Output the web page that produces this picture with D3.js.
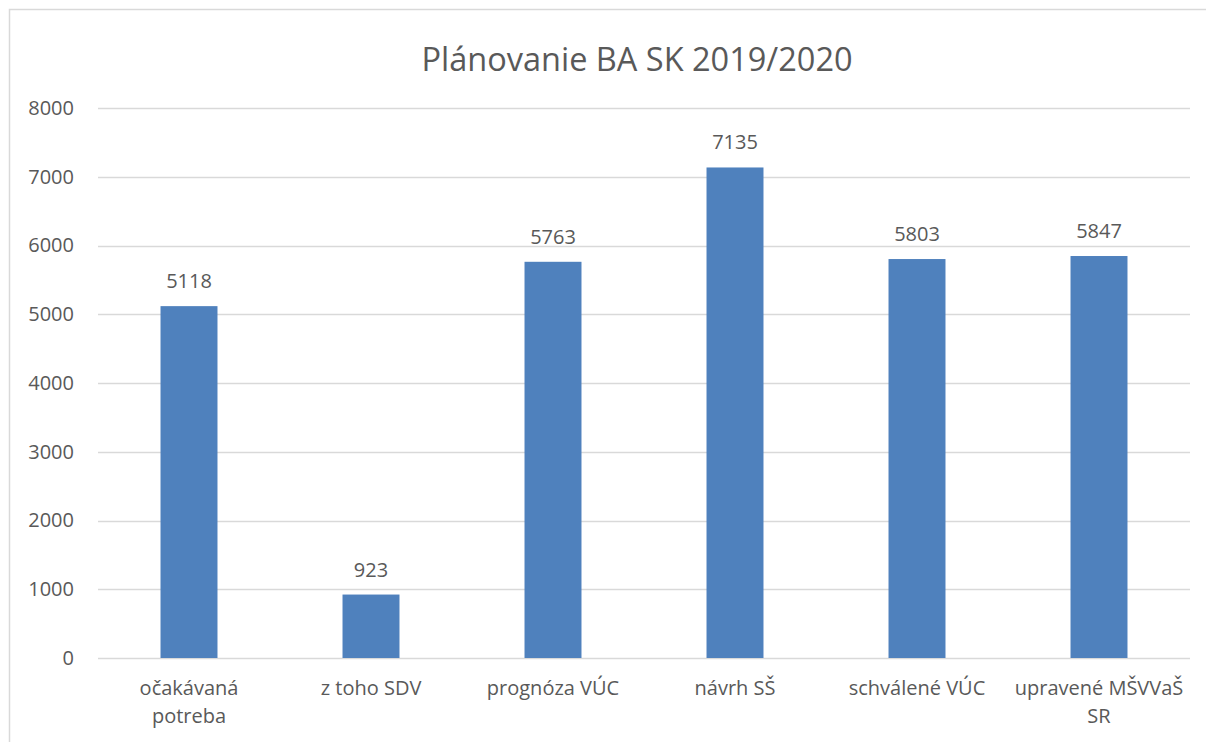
<!DOCTYPE html>
<html>
<head>
<meta charset="utf-8">
<script src="https://cdn.jsdelivr.net/npm/d3@7"></script>
<style>
  html, body { margin: 0; padding: 0; background: #fff; }
  svg { display: block; }
  text { font-family: "Open Sans", "Noto Sans", sans-serif; fill: #595959; }
</style>
</head>
<body>
<script>
const title = "Plánovanie BA SK 2019/2020";
const categories = ["očakávaná potreba", "z toho SDV", "prognóza VÚC", "návrh SŠ", "schválené VÚC", "upravené MŠVVaŠ SR"];
const values = [5118, 923, 5763, 7135, 5803, 5847];
const yTicks = [0, 1000, 2000, 3000, 4000, 5000, 6000, 7000, 8000];

const W = 1206, H = 742;
const margin = { left: 98, right: 16, top: 108, bottom: 84 };
const FS = "20px";
const svg = d3.select("body").append("svg").attr("width", W).attr("height", H);

// outer chart border
svg.append("rect").attr("x", 9.5).attr("y", 9.5).attr("width", W + 20).attr("height", H + 20)
  .attr("fill", "none").attr("stroke", "#d9d9d9").attr("stroke-width", 1.5);

const x = d3.scaleBand().domain(categories).range([margin.left, W - margin.right]).padding(0);
const y = d3.scaleLinear().domain([0, 8000]).range([H - margin.bottom, margin.top]);

// gridlines
svg.append("g").selectAll("line").data(yTicks).join("line")
  .attr("x1", margin.left).attr("x2", W - margin.right)
  .attr("y1", d => Math.round(y(d)) + 0.5).attr("y2", d => Math.round(y(d)) + 0.5)
  .attr("stroke", "#d9d9d9").attr("stroke-width", 1.5);

// y axis labels
const yAxis = d3.axisLeft(y).tickValues(yTicks).tickSize(0).tickPadding(0).tickFormat(d3.format("d"));
const gy = svg.append("g").attr("transform", `translate(74,0)`).call(yAxis);
gy.select(".domain").remove();
gy.selectAll("text").style("font-size", FS).style("fill", "#595959")
  .style("font-family", '"Open Sans", sans-serif');

// bars
const barW = x.step() * 0.313;
svg.append("g").selectAll("rect").data(values).join("rect")
  .attr("x", (d, i) => x(categories[i]) + x.bandwidth() / 2 - barW / 2)
  .attr("width", barW)
  .attr("y", d => y(d))
  .attr("height", d => y(0) - y(d))
  .attr("fill", "#4f81bd");

// data labels
svg.append("g").selectAll("text").data(values).join("text")
  .attr("x", (d, i) => x(categories[i]) + x.bandwidth() / 2)
  .attr("y", d => y(d) - 18)
  .attr("text-anchor", "middle")
  .style("font-size", FS)
  .text(d => d);

// x axis labels
const xAxis = d3.axisBottom(x).tickSize(0).tickPadding(0);
const gx = svg.append("g").attr("transform", `translate(0,${y(0) + 37})`).call(xAxis);
gx.select(".domain").remove();
gx.selectAll("text").style("font-size", FS).style("fill", "#595959")
  .style("font-family", '"Open Sans", sans-serif').attr("dy", 0).attr("y", 0)
  .each(function(d) {
    const t = d3.select(this);
    const tooWide = this.getComputedTextLength() > 160;
    t.text(null);
    let lines = [d];
    if (tooWide) {
      const k = d.lastIndexOf(" ");
      lines = [d.slice(0, k), d.slice(k + 1)];
    }
    lines.forEach((l, i) => {
      t.append("tspan").attr("x", 0).attr("y", i * 28).text(l);
    });
  });

// title
svg.append("text").attr("x", 637).attr("y", 71).attr("text-anchor", "middle")
  .style("font-size", "32.5px").style("fill", "#595959").text(title);
</script>
</body>
</html>
